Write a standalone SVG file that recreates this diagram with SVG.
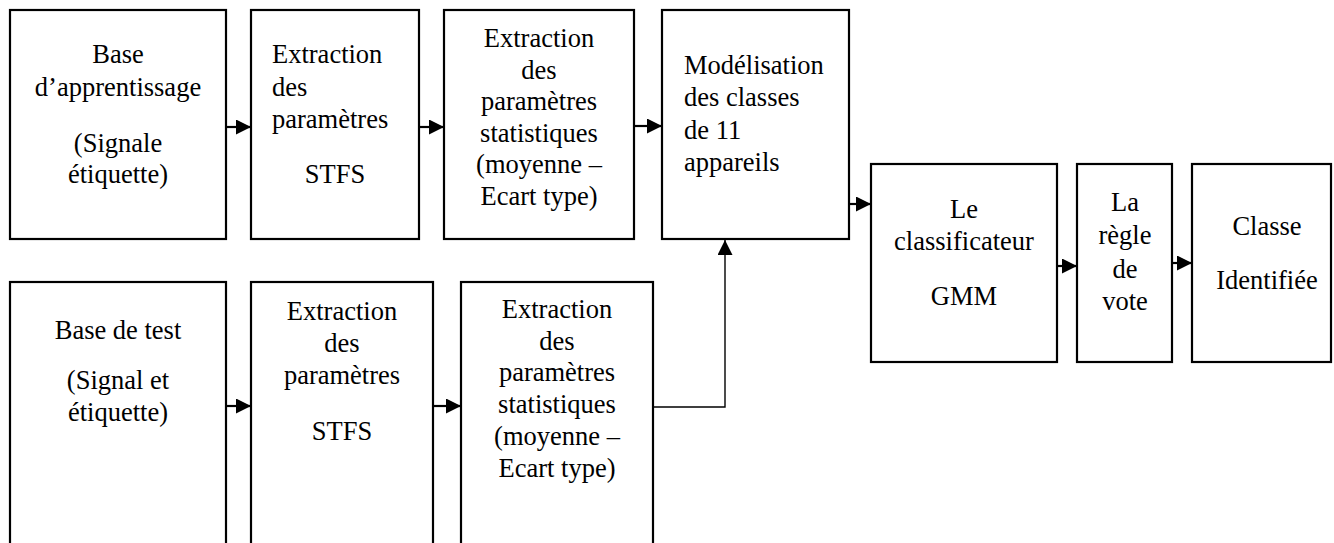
<svg xmlns="http://www.w3.org/2000/svg" width="1334" height="543" viewBox="0 0 1334 543">
<style>
.box{fill:#fff;stroke:#000;stroke-width:2.2}
text{font-family:'Liberation Serif','Times New Roman',Times,serif;font-size:26.5px;fill:#000}
.c{text-anchor:middle}
.conn{stroke:#000;stroke-width:2.2;fill:none}
.thin{stroke:#000;stroke-width:1.4;fill:none}
</style>
<defs>
<marker id="arr" markerWidth="15" markerHeight="15" refX="15" refY="7.5" orient="auto" markerUnits="userSpaceOnUse">
<path d="M0,0 L15,7.5 L0,15 Z" fill="#000"/>
</marker>
</defs>
<rect width="1334" height="543" fill="#fff"/>
<g id="connectors">
<line class="conn" x1="226" y1="127" x2="251" y2="127" marker-end="url(#arr)"/>
<line class="conn" x1="419" y1="127" x2="444" y2="127" marker-end="url(#arr)"/>
<line class="conn" x1="634" y1="126" x2="662" y2="126" marker-end="url(#arr)"/>
<line class="conn" x1="849" y1="204" x2="871" y2="204" marker-end="url(#arr)"/>
<line class="conn" x1="1057" y1="266" x2="1077" y2="266" marker-end="url(#arr)"/>
<line class="conn" x1="1172" y1="263" x2="1192" y2="263" marker-end="url(#arr)"/>
<line class="conn" x1="226" y1="406" x2="251" y2="406" marker-end="url(#arr)"/>
<line class="conn" x1="433" y1="406" x2="461" y2="406" marker-end="url(#arr)"/>
<polyline class="thin" points="653,407 725,407 725,240" marker-end="url(#arr)"/>
</g>
<g id="n1">
<rect class="box" x="10" y="10" width="216" height="229"/>
<text class="c" x="118" y="63">Base</text>
<text class="c" x="118" y="96">d’apprentissage</text>
<text class="c" x="118" y="152">(Signale</text>
<text class="c" x="118" y="183">étiquette)</text>
</g>
<g id="n2">
<rect class="box" x="251" y="10" width="168" height="229"/>
<text x="272" y="63">Extraction</text>
<text x="272" y="96">des</text>
<text x="272" y="128">paramètres</text>
<text class="c" x="335" y="183">STFS</text>
</g>
<g id="n3">
<rect class="box" x="444" y="10" width="190" height="229"/>
<text class="c" x="539" y="47">Extraction</text>
<text class="c" x="539" y="79">des</text>
<text class="c" x="539" y="110">paramètres</text>
<text class="c" x="539" y="142">statistiques</text>
<text class="c" x="539" y="173">(moyenne –</text>
<text class="c" x="539" y="205">Ecart type)</text>
</g>
<g id="n4">
<rect class="box" x="662" y="10" width="187" height="229"/>
<text x="684" y="74">Modélisation</text>
<text x="684" y="106">des classes</text>
<text x="684" y="139">de 11</text>
<text x="684" y="171">appareils</text>
</g>
<g id="n5">
<rect class="box" x="871" y="164" width="186" height="198"/>
<text class="c" x="964" y="218">Le</text>
<text class="c" x="964" y="250">classificateur</text>
<text class="c" x="964" y="305">GMM</text>
</g>
<g id="n6">
<rect class="box" x="1077" y="164" width="95" height="198"/>
<text class="c" x="1125" y="211">La</text>
<text class="c" x="1125" y="244">règle</text>
<text class="c" x="1125" y="278">de</text>
<text class="c" x="1125" y="310">vote</text>
</g>
<g id="n7">
<rect class="box" x="1192" y="164" width="139" height="198"/>
<text class="c" x="1267" y="235">Classe</text>
<text class="c" x="1267" y="289">Identifiée</text>
</g>
<g id="n8">
<rect class="box" x="10" y="282" width="216" height="280"/>
<text class="c" x="118" y="339">Base de test</text>
<text class="c" x="118" y="389">(Signal et</text>
<text class="c" x="118" y="421">étiquette)</text>
</g>
<g id="n9">
<rect class="box" x="251" y="282" width="182" height="280"/>
<text class="c" x="342" y="320">Extraction</text>
<text class="c" x="342" y="352">des</text>
<text class="c" x="342" y="384">paramètres</text>
<text class="c" x="342" y="440">STFS</text>
</g>
<g id="n10">
<rect class="box" x="461" y="282" width="192" height="280"/>
<text class="c" x="557" y="318">Extraction</text>
<text class="c" x="557" y="350">des</text>
<text class="c" x="557" y="381">paramètres</text>
<text class="c" x="557" y="413">statistiques</text>
<text class="c" x="557" y="445">(moyenne –</text>
<text class="c" x="557" y="477">Ecart type)</text>
</g>
</svg>
